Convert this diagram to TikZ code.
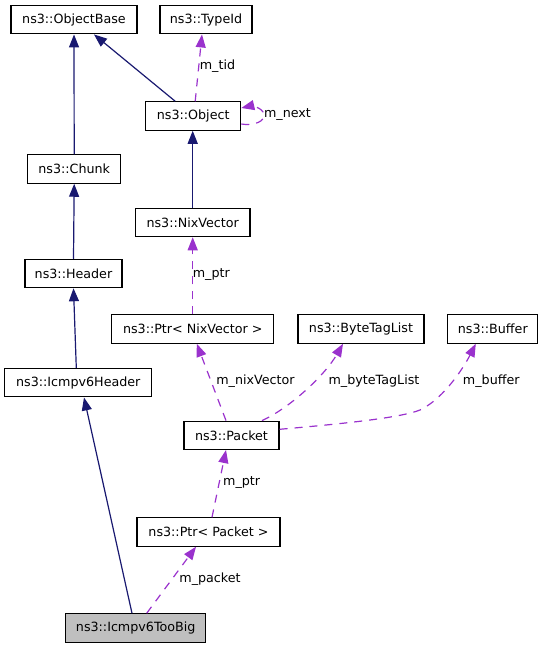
\documentclass[tikz,border=0pt]{standalone}
\usepackage{fontspec}
\setmainfont{DejaVu Sans}
\usetikzlibrary{arrows.meta,calc}
\definecolor{navy}{HTML}{191970}
\definecolor{orchid}{HTML}{9A32CD}
\definecolor{boxgray}{HTML}{BFBFBF}
\begin{document}
\begin{tikzpicture}[x=1pt,y=-1pt,
  cls/.style={draw=black,line width=1.2pt,inner sep=0pt,fill=white,
    font=\fontsize{12.7}{15}\selectfont,minimum height=28.3pt},
  inh/.style={draw=navy,line width=1.2pt,
    -{Triangle[length=13pt,width=10pt,fill=navy]}},
  usage/.style={draw=orchid,line width=1.2pt,dash pattern=on 8pt off 7pt,
    -{Triangle[length=13pt,width=10pt,fill=orchid]}},
  lbl/.style={inner sep=0pt,font=\fontsize{12.7}{15}\selectfont}]
\useasboundingbox (0,0) rectangle (544,648);
% nodes
\node[cls,minimum width=126pt] (ob) at (74,19.7) {ns3::ObjectBase};
\node[cls,minimum width=92pt] (tid) at (206,19.7) {ns3::TypeId};
\node[cls,minimum width=95pt] (obj) at (193.2,116) {ns3::Object};
\node[cls,minimum width=93pt] (chunk) at (74.2,169) {ns3::Chunk};
\node[cls,minimum width=114.7pt] (nix) at (192.7,222.5) {ns3::NixVector};
\node[cls,minimum width=97pt] (header) at (73.5,273.5) {ns3::Header};
\node[cls,minimum width=162pt] (pnix) at (192.8,329) {ns3::Ptr< NixVector >};
\node[cls,minimum width=126pt] (btl) at (361,329) {ns3::ByteTagList};
\node[cls,minimum width=90pt] (buf) at (492.8,329) {ns3::Buffer};
\node[cls,minimum width=147pt] (icmp) at (78.3,382.7) {ns3::Icmpv6Header};
\node[cls,minimum width=95pt] (pkt) at (231.5,435.3) {ns3::Packet};
\node[cls,minimum width=143pt] (ppkt) at (208.5,532) {ns3::Ptr< Packet >};
\node[cls,minimum width=140pt,fill=boxgray] (big) at (135.7,628) {ns3::Icmpv6TooBig};
% inheritance
\draw[inh] (chunk.north) -- (ob.south);
\draw[inh] ($(obj.north)+(-18,0)$) -- ($(ob.south)+(20,0)$);
\draw[inh] (header.north) -- (chunk.north |- chunk.south);
\draw[inh] ($(icmp.north)+(-2,0)$) -- (header.south);
\draw[inh] (nix.north) -- (obj.south -| nix.north);
\draw[inh] ($(big.north)+(-3.7,0)$) -- ($(icmp.south)+(5.7,0)$);
% usage
\draw[usage] ($(obj.north)+(2,0)$) -- ($(tid.south)+(-4,0)$);
\node[lbl] (ltid) at (217.5,66) {m\_tid};
\draw[usage] ($(obj.east)+(0,8)$) .. controls (252,126) and (268,122) .. (263,112)
  .. controls (259,106) and (250,106) .. ($(obj.east)+(0,-8)$);
\node[lbl] (lnext) at (287.5,115) {m\_next};
\draw[usage] (pnix.north -| nix.south) -- (nix.south);
\node[lbl] (lptr1) at (211.3,275) {m\_ptr};
\draw[usage] ($(pkt.north)+(-5.5,0)$) -- ($(pnix.south)+(4,0)$);
\node[lbl] (lnixv) at (255.5,381) {m\_nixVector};
\draw[usage] ($(pkt.north)+(30.5,0)$) .. controls (290,408) and (325,375) .. ($(btl.south)+(-18,0)$);
\node[lbl] (lbtl) at (374,381) {m\_byteTagList};
\draw[usage] ($(pkt.east)+(0,-6)$) .. controls (340,424) and (400,418) .. (420,410)
  .. controls (445,398) and (465,365) .. ($(buf.south)+(-17,0)$);
\node[lbl] (lbuf) at (491.3,381) {m\_buffer};
\draw[usage] ($(ppkt.north)+(3.5,0)$) -- ($(pkt.south)+(-5.5,0)$);
\node[lbl] (lptr2) at (241.7,483) {m\_ptr};
\draw[usage] ($(big.north)+(11,0)$) -- ($(ppkt.south)+(-12.5,0)$);
\node[lbl] (lpkt) at (210,579) {m\_packet};
\end{tikzpicture}
\end{document}
